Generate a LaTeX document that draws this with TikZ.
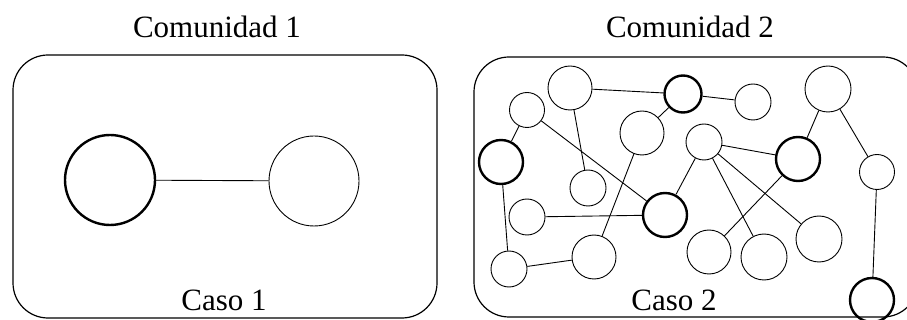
\documentclass[tikz,border=0pt]{standalone}
\usepackage{fontspec}
\setmainfont{Liberation Serif}
\tikzset{
  vertex/.style={circle, draw, line width=0.9pt, inner sep=0pt},
  hub/.style={vertex, line width=2.4pt},
  panel/.style={draw, line width=1.2pt, rounded corners=35pt},
  caption/.style={anchor=base, inner sep=0pt, font=\fontsize{31}{36}\selectfont},
}

\begin{document}
\begin{tikzpicture}[x=1pt, y=-1pt, line width=0.9pt]
      \useasboundingbox (0,0) rectangle (907,320);
      \clip (0,0) rectangle (907,320);

      % frames and titles
      \draw[panel] (13,55) rectangle (437,318);
      \draw[panel] (474,57) rectangle (918,317);
      \node[caption] (title1) at (217,38) {Comunidad 1};
      \node[caption] (title2) at (690,38) {Comunidad 2};
      \node[caption] (case1) at (224,310) {Caso 1};
      \node[caption] (case2) at (674,310) {Caso 2};

      % first community: one pair
      \node[hub, minimum size=90pt] (pa) at (110,180) {};
      \node[vertex, minimum size=90pt] (pb) at (314,181) {};
      \draw (pa) -- (pb);

      % second community: the big network
      \node[vertex, minimum size=44pt] (a) at (570,88) {};
      \node[vertex, minimum size=35pt] (b) at (527,110) {};
      \node[hub, minimum size=44pt] (c) at (501,162) {};
      \node[vertex, minimum size=44pt] (d) at (642,133) {};
      \node[hub, minimum size=37pt] (e) at (683,94) {};
      \node[vertex, minimum size=36pt] (f) at (753,102) {};
      \node[vertex, minimum size=46pt] (g) at (828,89) {};
      \node[vertex, minimum size=36pt] (h) at (704,142) {};
      \node[hub, minimum size=44pt] (i) at (798,159) {};
      \node[vertex, minimum size=35pt] (j) at (877,172) {};
      \node[vertex, minimum size=36pt] (k) at (588,188) {};
      \node[vertex, minimum size=36pt] (l) at (527,217) {};
      \node[hub, minimum size=44pt] (m) at (665,215) {};
      \node[vertex, minimum size=36pt] (n) at (509,269) {};
      \node[vertex, minimum size=44pt] (o) at (594,257) {};
      \node[vertex, minimum size=44pt] (p) at (709,252) {};
      \node[vertex, minimum size=46pt] (q) at (764,257) {};
      \node[vertex, minimum size=46pt] (r) at (819,239) {};
      \node[hub, minimum size=44pt] (s) at (872,300) {};

      % links
      \draw (a) -- (e);
      \draw (a) -- (k);
      \draw (b) -- (c);
      \draw (b) -- (m);
      \draw (c) -- (n);
      \draw (d) -- (e);
      \draw (d) -- (o);
      \draw (e) -- (f);
      \draw (g) -- (i);
      \draw (g) -- (j);
      \draw (h) -- (i);
      \draw (h) -- (m);
      \draw (h) -- (q);
      \draw (h) -- (r);
      \draw (i) -- (p);
      \draw (j) -- (s);
      \draw (l) -- (m);
      \draw (n) -- (o);
\end{tikzpicture}
\end{document}
